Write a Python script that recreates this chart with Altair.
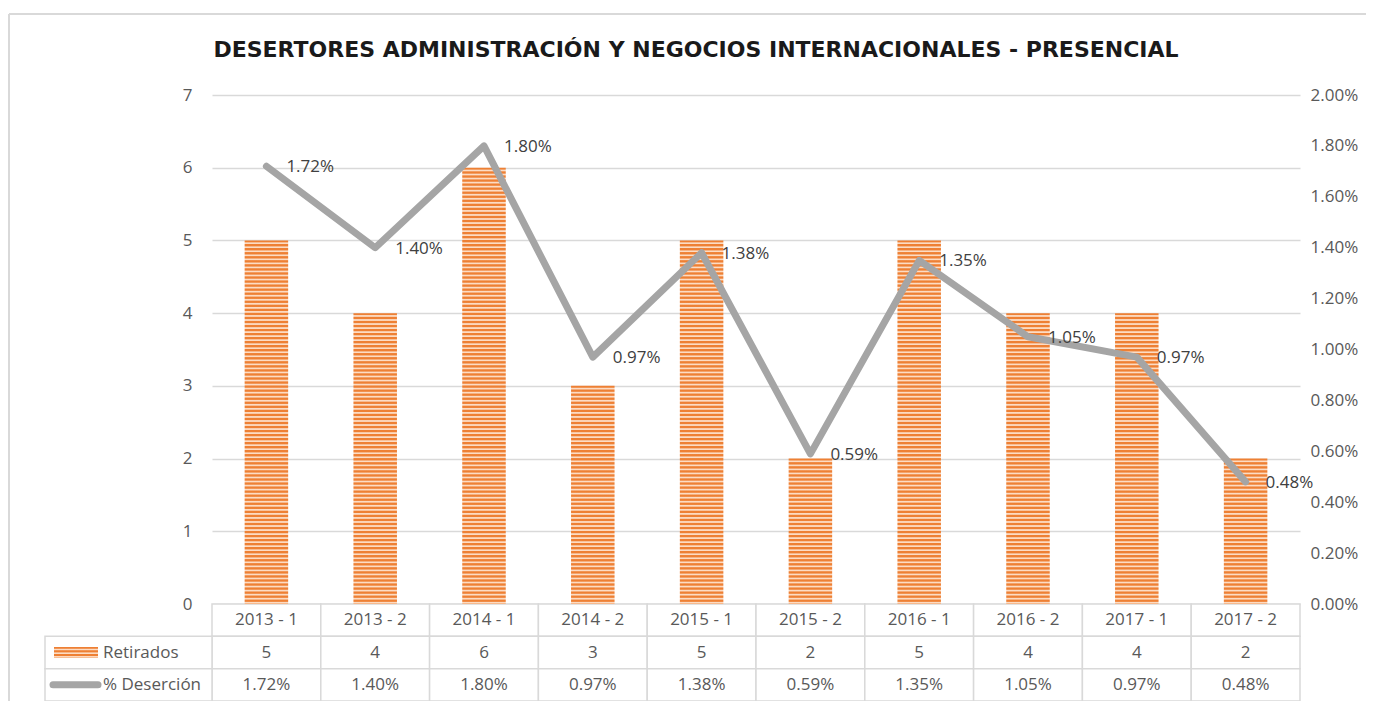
import altair as alt
import pandas as pd

# ---------------- data ----------------
categories = ["2013 - 1", "2013 - 2", "2014 - 1", "2014 - 2", "2015 - 1",
              "2015 - 2", "2016 - 1", "2016 - 2", "2017 - 1", "2017 - 2"]
retirados = [5, 4, 6, 3, 5, 2, 5, 4, 4, 2]
desercion_pct = [1.72, 1.40, 1.80, 0.97, 1.38, 0.59, 1.35, 1.05, 0.97, 0.48]
count_ticks = [0, 1, 2, 3, 4, 5, 6, 7]
pct_ticks = [0.0, 0.002, 0.004, 0.006, 0.008, 0.010, 0.012, 0.014, 0.016, 0.018, 0.020]
row_names = ["", "Retirados", "% Deserción"]
title_text = "DESERTORES ADMINISTRACIÓN Y NEGOCIOS INTERNACIONALES - PRESENCIAL"

# ---------------- layout / style ----------------
W = 1088
PLOT_H = 509
TABLE_H = 97
H = PLOT_H + TABLE_H
FONT = "Open Sans"
TXT = "#595959"
GRID = "#D9D9D9"
ORANGE_D = "#EE8034"
ORANGE_L = "#FCDCC4"
GRAY = "#A5A5A5"
STRIPES_PER_UNIT = 18


def stripes(n):
    stops = []
    for i in range(n):
        stops += [{"offset": i / n, "color": ORANGE_D},
                  {"offset": (i + 0.35) / n, "color": ORANGE_D},
                  {"offset": (i + 0.6) / n, "color": ORANGE_L},
                  {"offset": (i + 0.8) / n, "color": ORANGE_L},
                  {"offset": (i + 1) / n, "color": ORANGE_D}]
    return {"gradient": "linear", "x1": 0, "y1": 0, "x2": 0, "y2": 1, "stops": stops}


df = pd.DataFrame({
    "cat": categories,
    "Retirados": retirados,
    "Desercion": [p / 100 for p in desercion_pct],
    "label": [f"{p:.2f}%" for p in desercion_pct],
})

table_rows = []
for c, r, p in zip(categories, retirados, desercion_pct):
    table_rows.append({"cat": c, "row": row_names[0], "txt": c})
    table_rows.append({"cat": c, "row": row_names[1], "txt": str(r)})
    table_rows.append({"cat": c, "row": row_names[2], "txt": f"{p:.2f}%"})
tdf = pd.DataFrame(table_rows)
hdf = pd.DataFrame({"row": row_names[1:]})

xenc = alt.X("cat:N", sort=categories, axis=None,
             scale=alt.Scale(type="band", domain=categories, paddingInner=0, paddingOuter=0))

# bars
conds = [{"test": f"datum.Retirados == {v}", "value": stripes(STRIPES_PER_UNIT * v)}
         for v in sorted(set(retirados))]
bars = alt.Chart(df).mark_bar(width=alt.RelativeBandSize(0.4)).encode(
    x=xenc,
    y=alt.Y("Retirados:Q", title=None,
            scale=alt.Scale(domain=[0, 7], range=[PLOT_H, 0], nice=False, zero=True),
            axis=alt.Axis(orient="left", values=count_ticks, grid=True, gridColor=GRID,
                          gridWidth=1.5, domain=False, ticks=False, labelPadding=20,
                          labelFontSize=17, labelColor=TXT, labelFont=FONT)),
    fill={"condition": conds, "value": stripes(STRIPES_PER_UNIT * 2)},
)

# line + labels
yline = alt.Y("Desercion:Q", title=None,
              scale=alt.Scale(domain=[0, 0.02], range=[PLOT_H, 0], nice=False),
              axis=alt.Axis(orient="right", values=pct_ticks, format=".2%", grid=False,
                            domain=False, ticks=False, labelPadding=10,
                            labelFontSize=17, labelColor=TXT, labelFont=FONT))
xline = alt.X("cat:N", sort=categories, axis=None, bandPosition=0.5,
              scale=alt.Scale(type="band", domain=categories, paddingInner=0, paddingOuter=0))
line = alt.Chart(df).mark_line(color=GRAY, strokeWidth=7, strokeJoin="round",
                               strokeCap="round").encode(x=xline, y=yline)
labels = alt.Chart(df).mark_text(align="left", baseline="middle", dx=20, dy=1,
                                 fontSize=17, font=FONT, color="#404040").encode(
    x=xline, y=yline, text="label:N")
line_group = alt.layer(line, labels)

# data table
yrow = alt.Y("row:N", axis=None, title=None,
             scale=alt.Scale(type="band", domain=row_names, range=[PLOT_H, H],
                             paddingInner=0, paddingOuter=0))
cells = alt.Chart(tdf).mark_rect(fill="white", stroke=GRID, strokeWidth=1.5).encode(
    x=xenc, y=yrow)
cell_txt = alt.Chart(tdf).mark_text(baseline="middle", fontSize=17, font=FONT,
                                    color=TXT).encode(
    x=xline, y=yrow, text="txt:N")
hdr_cells = alt.Chart(hdf).mark_rect(fill="white", stroke=GRID, strokeWidth=1.5).encode(
    x=alt.value(-167), x2=alt.value(0), y=yrow)
hdr_txt = alt.Chart(hdf).mark_text(align="left", baseline="middle", fontSize=17,
                                   font=FONT, color=TXT).encode(
    x=alt.value(-109), y=yrow, text="row:N")
sw_bar = alt.Chart(hdf).transform_filter(alt.datum.row == row_names[1]).mark_bar(
    height=11, fill=stripes(3)).encode(x=alt.value(-158), x2=alt.value(-114), y=yrow)
sw_line = alt.Chart(hdf).transform_filter(alt.datum.row == row_names[2]).mark_rule(
    strokeWidth=7, strokeCap="round", color=GRAY).encode(
    x=alt.value(-159), x2=alt.value(-114), y=yrow)
table = alt.layer(cells, cell_txt, hdr_cells, hdr_txt, sw_bar, sw_line)

# chart-area border (top and left edges)
one = alt.Data(values=[{"a": 1}])
frame_top = alt.Chart(one).mark_rule(stroke=GRID, strokeWidth=2).encode(
    x=alt.value(-203), x2=alt.value(W + 66), y=alt.value(-81))
frame_left = alt.Chart(one).mark_rule(stroke=GRID, strokeWidth=2).encode(
    x=alt.value(-203), y=alt.value(-81), y2=alt.value(H + 30))

chart = alt.layer(frame_top, frame_left, table, bars, line_group).resolve_scale(
    y="independent").properties(
    width=W, height=H,
    autosize=alt.AutoSizeParams(type="none"),
    padding={"left": 204, "top": 87, "right": 66, "bottom": 0},
    title=alt.TitleParams(text=title_text, font="DejaVu Sans", fontSize=22,
                          fontWeight="bold", color="#1A1A1A", anchor="middle",
                          frame="group", dx=-60, offset=-66, baseline="alphabetic"),
).configure_view(strokeWidth=0)

chart.save("out.html", embed_options={"renderer": "svg", "actions": False})
